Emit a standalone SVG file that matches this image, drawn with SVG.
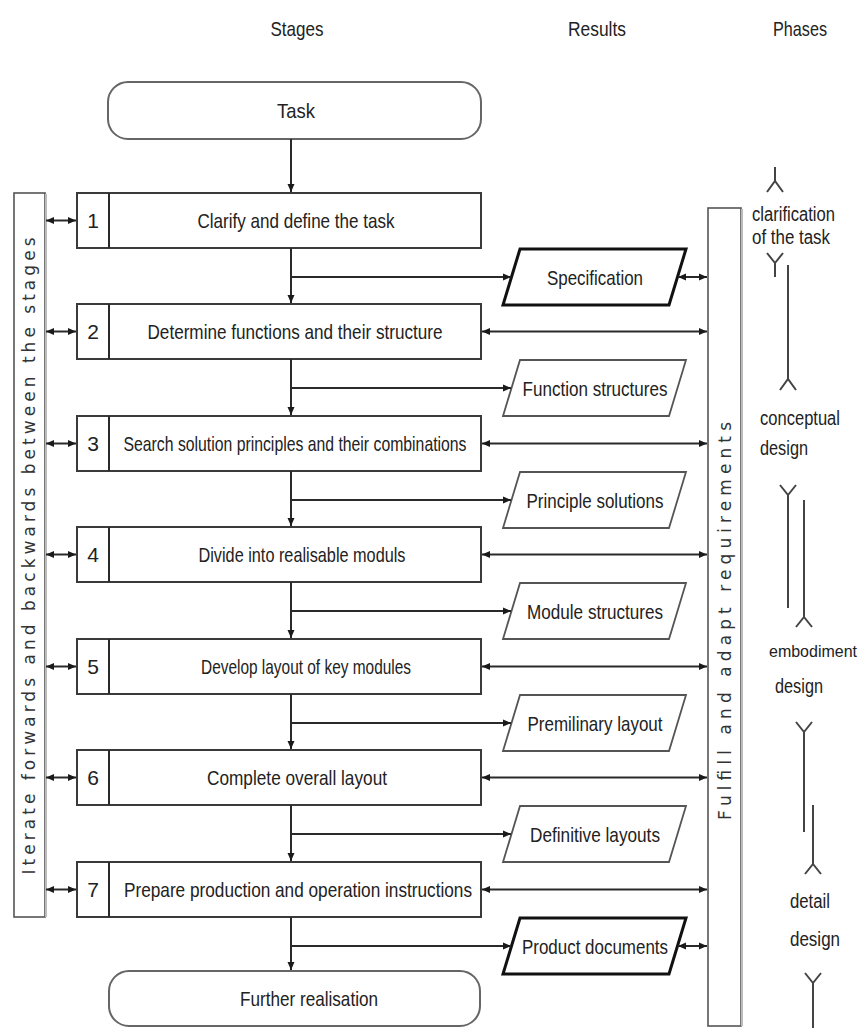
<svg xmlns="http://www.w3.org/2000/svg" width="867" height="1028" viewBox="0 0 867 1028">
<style>
.t{font-family:"Liberation Sans",Arial,sans-serif;font-size:21px;fill:#222;text-anchor:middle}
.ph{font-family:"Liberation Sans",Arial,sans-serif;font-size:20px;fill:#222;text-anchor:start}
.bar{font-family:"DejaVu Sans",Verdana,sans-serif;font-size:17px;fill:#333;text-anchor:middle}
.box{fill:#fff;stroke:#3a3a3a;stroke-width:2}
.term{fill:#fff;stroke:#666;stroke-width:2}
.res{fill:#fff;stroke:#555;stroke-width:1.8}
.resb{fill:#fff;stroke:#111;stroke-width:3}
.side{fill:#fff;stroke:#555;stroke-width:1.6}
.c{fill:none;stroke:#2a2a2a;stroke-width:2}
.p{fill:none;stroke:#444;stroke-width:2}
</style>
<defs>
<marker id="ah" viewBox="0 0 8 8" refX="8" refY="4" markerWidth="8" markerHeight="8" markerUnits="userSpaceOnUse" orient="auto-start-reverse">
<path d="M0,0.5 L8,4 L0,7.5 z" fill="#1a1a1a"/>
</marker>
</defs>

<g id="headers">
<text class="t" x="297" y="36" textLength="53" lengthAdjust="spacingAndGlyphs">Stages</text>
<text class="t" x="597" y="36" textLength="58" lengthAdjust="spacingAndGlyphs">Results</text>
<text class="t" x="800" y="36" textLength="54" lengthAdjust="spacingAndGlyphs">Phases</text>
</g>

<g id="iterate-bar">
<rect class="side" x="14" y="193" width="31" height="724"/>
<line x1="46" y1="194" x2="46" y2="917" stroke="#bbb" stroke-width="2"/>
<text class="bar" transform="translate(35,556) rotate(-90)" x="0" y="0" textLength="637" lengthAdjust="spacing">Iterate forwards and backwards between the stages</text>
</g>

<g id="requirements-bar">
<rect class="side" x="708" y="208" width="33" height="818"/>
<line x1="742" y1="209" x2="742" y2="1026" stroke="#bbb" stroke-width="2"/>
<text class="bar" transform="translate(731,621) rotate(-90)" x="0" y="0" textLength="398" lengthAdjust="spacing">Fulfill and adapt requirements</text>
</g>

<g id="task">
<rect class="term" x="108" y="82" width="373" height="57" rx="20"/>
<text class="t" x="296" y="118" textLength="38" lengthAdjust="spacingAndGlyphs">Task</text>
</g>

<g id="stage1">
<rect class="box" x="77" y="193" width="404" height="55"/>
<line class="c" x1="109" y1="193" x2="109" y2="248"/>
<text class="t" x="93" y="228">1</text>
<text class="t" x="296" y="228" textLength="197" lengthAdjust="spacingAndGlyphs">Clarify and define the task</text>
</g>
<g id="stage2">
<rect class="box" x="77" y="304" width="404" height="55"/>
<line class="c" x1="109" y1="304" x2="109" y2="359"/>
<text class="t" x="93" y="339">2</text>
<text class="t" x="295" y="339" textLength="295" lengthAdjust="spacingAndGlyphs">Determine functions and their structure</text>
</g>
<g id="stage3">
<rect class="box" x="77" y="416" width="404" height="55"/>
<line class="c" x1="109" y1="416" x2="109" y2="471"/>
<text class="t" x="93" y="451">3</text>
<text class="t" x="295" y="451" textLength="343" lengthAdjust="spacingAndGlyphs">Search solution principles and their combinations</text>
</g>
<g id="stage4">
<rect class="box" x="77" y="527" width="404" height="55"/>
<line class="c" x1="109" y1="527" x2="109" y2="582"/>
<text class="t" x="93" y="562">4</text>
<text class="t" x="302" y="562" textLength="207" lengthAdjust="spacingAndGlyphs">Divide into realisable moduls</text>
</g>
<g id="stage5">
<rect class="box" x="77" y="639" width="404" height="55"/>
<line class="c" x1="109" y1="639" x2="109" y2="694"/>
<text class="t" x="93" y="674">5</text>
<text class="t" x="306" y="674" textLength="210" lengthAdjust="spacingAndGlyphs">Develop layout of key modules</text>
</g>
<g id="stage6">
<rect class="box" x="77" y="750" width="404" height="55"/>
<line class="c" x1="109" y1="750" x2="109" y2="805"/>
<text class="t" x="93" y="785">6</text>
<text class="t" x="297" y="785" textLength="180" lengthAdjust="spacingAndGlyphs">Complete overall layout</text>
</g>
<g id="stage7">
<rect class="box" x="77" y="862" width="404" height="55"/>
<line class="c" x1="109" y1="862" x2="109" y2="917"/>
<text class="t" x="93" y="897">7</text>
<text class="t" x="298" y="897" textLength="348" lengthAdjust="spacingAndGlyphs">Prepare production and operation instructions</text>
</g>

<g id="further">
<rect class="term" x="109" y="971" width="371" height="55" rx="20"/>
<text class="t" x="309" y="1006" textLength="138" lengthAdjust="spacingAndGlyphs">Further realisation</text>
</g>

<g id="r-spec">
<polygon class="resb" points="520,249 686,249 669,305 503,305"/>
<text class="t" x="595" y="285" textLength="96" lengthAdjust="spacingAndGlyphs">Specification</text>
</g>
<g id="r-function">
<polygon class="res" points="520,360 686,360 669,416 503,416"/>
<text class="t" x="595" y="396" textLength="145" lengthAdjust="spacingAndGlyphs">Function structures</text>
</g>
<g id="r-principle">
<polygon class="res" points="520,472 686,472 669,528 503,528"/>
<text class="t" x="595" y="508" textLength="137" lengthAdjust="spacingAndGlyphs">Principle solutions</text>
</g>
<g id="r-module">
<polygon class="res" points="520,583 686,583 669,639 503,639"/>
<text class="t" x="595" y="619" textLength="136" lengthAdjust="spacingAndGlyphs">Module structures</text>
</g>
<g id="r-premilinary">
<polygon class="res" points="520,695 686,695 669,751 503,751"/>
<text class="t" x="595" y="731" textLength="135" lengthAdjust="spacingAndGlyphs">Premilinary layout</text>
</g>
<g id="r-definitive">
<polygon class="res" points="520,806 686,806 669,862 503,862"/>
<text class="t" x="595" y="842" textLength="130" lengthAdjust="spacingAndGlyphs">Definitive layouts</text>
</g>
<g id="r-product">
<polygon class="resb" points="520,918 686,918 669,974 503,974"/>
<text class="t" x="595" y="954" textLength="146" lengthAdjust="spacingAndGlyphs">Product documents</text>
</g>

<g id="connectors">
<path class="c" marker-end="url(#ah)" d="M291,139 V192"/>
<path class="c" marker-end="url(#ah)" d="M291,248 V303"/>
<path class="c" marker-end="url(#ah)" d="M291,359 V415"/>
<path class="c" marker-end="url(#ah)" d="M291,471 V526"/>
<path class="c" marker-end="url(#ah)" d="M291,582 V638"/>
<path class="c" marker-end="url(#ah)" d="M291,694 V749"/>
<path class="c" marker-end="url(#ah)" d="M291,805 V861"/>
<path class="c" marker-end="url(#ah)" d="M291,917 V970"/>

<path class="c" marker-end="url(#ah)" d="M291,277 H511"/>
<path class="c" marker-end="url(#ah)" d="M291,388 H511"/>
<path class="c" marker-end="url(#ah)" d="M291,500 H511"/>
<path class="c" marker-end="url(#ah)" d="M291,611 H511"/>
<path class="c" marker-end="url(#ah)" d="M291,723 H511"/>
<path class="c" marker-end="url(#ah)" d="M291,834 H511"/>
<path class="c" marker-end="url(#ah)" d="M291,946 H511"/>

<path class="c" marker-start="url(#ah)" marker-end="url(#ah)" d="M678,277 H707"/>
<path class="c" marker-start="url(#ah)" marker-end="url(#ah)" d="M678,946 H707"/>

<path class="c" marker-start="url(#ah)" marker-end="url(#ah)" d="M482,331.5 H707"/>
<path class="c" marker-start="url(#ah)" marker-end="url(#ah)" d="M482,443.5 H707"/>
<path class="c" marker-start="url(#ah)" marker-end="url(#ah)" d="M482,554.5 H707"/>
<path class="c" marker-start="url(#ah)" marker-end="url(#ah)" d="M482,666.5 H707"/>
<path class="c" marker-start="url(#ah)" marker-end="url(#ah)" d="M482,777.5 H707"/>
<path class="c" marker-start="url(#ah)" marker-end="url(#ah)" d="M482,889.5 H707"/>

<path class="c" marker-start="url(#ah)" marker-end="url(#ah)" d="M46,220.5 H76"/>
<path class="c" marker-start="url(#ah)" marker-end="url(#ah)" d="M46,331.5 H76"/>
<path class="c" marker-start="url(#ah)" marker-end="url(#ah)" d="M46,443.5 H76"/>
<path class="c" marker-start="url(#ah)" marker-end="url(#ah)" d="M46,554.5 H76"/>
<path class="c" marker-start="url(#ah)" marker-end="url(#ah)" d="M46,666.5 H76"/>
<path class="c" marker-start="url(#ah)" marker-end="url(#ah)" d="M46,777.5 H76"/>
<path class="c" marker-start="url(#ah)" marker-end="url(#ah)" d="M46,889.5 H76"/>
</g>

<g id="phases">
<path class="p" d="M775,167 V182 M767,192 L775,181 L783,192"/>
<path class="p" d="M767,253 L775,263 L783,253 M775,263 V277"/>
<path class="p" d="M788,265 V380 M780,390 L788,379 L796,390"/>
<path class="p" d="M780,485 L788,495 L796,485 M788,495 V608"/>
<path class="p" d="M804,500 V618 M796,627 L804,617 L812,627"/>
<path class="p" d="M796,722 L804,732 L812,722 M804,732 V832"/>
<path class="p" d="M813,805 V865 M805,874 L813,864 L821,874"/>
<path class="p" d="M805,973 L813,983 L821,973 M813,983 V1028"/>
<text class="ph" x="752" y="221" textLength="83" lengthAdjust="spacingAndGlyphs">clarification</text>
<text class="ph" x="752" y="244" textLength="78" lengthAdjust="spacingAndGlyphs">of the task</text>
<text class="ph" x="760" y="425" textLength="80" lengthAdjust="spacingAndGlyphs">conceptual</text>
<text class="ph" x="760" y="455" textLength="48" lengthAdjust="spacingAndGlyphs">design</text>
<text class="ph" x="769" y="657" style="font-size:17px" textLength="88" lengthAdjust="spacingAndGlyphs">embodiment</text>
<text class="ph" x="775" y="693" textLength="48" lengthAdjust="spacingAndGlyphs">design</text>
<text class="ph" x="790" y="908" textLength="40" lengthAdjust="spacingAndGlyphs">detail</text>
<text class="ph" x="790" y="946" textLength="50" lengthAdjust="spacingAndGlyphs">design</text>
</g>
</svg>
